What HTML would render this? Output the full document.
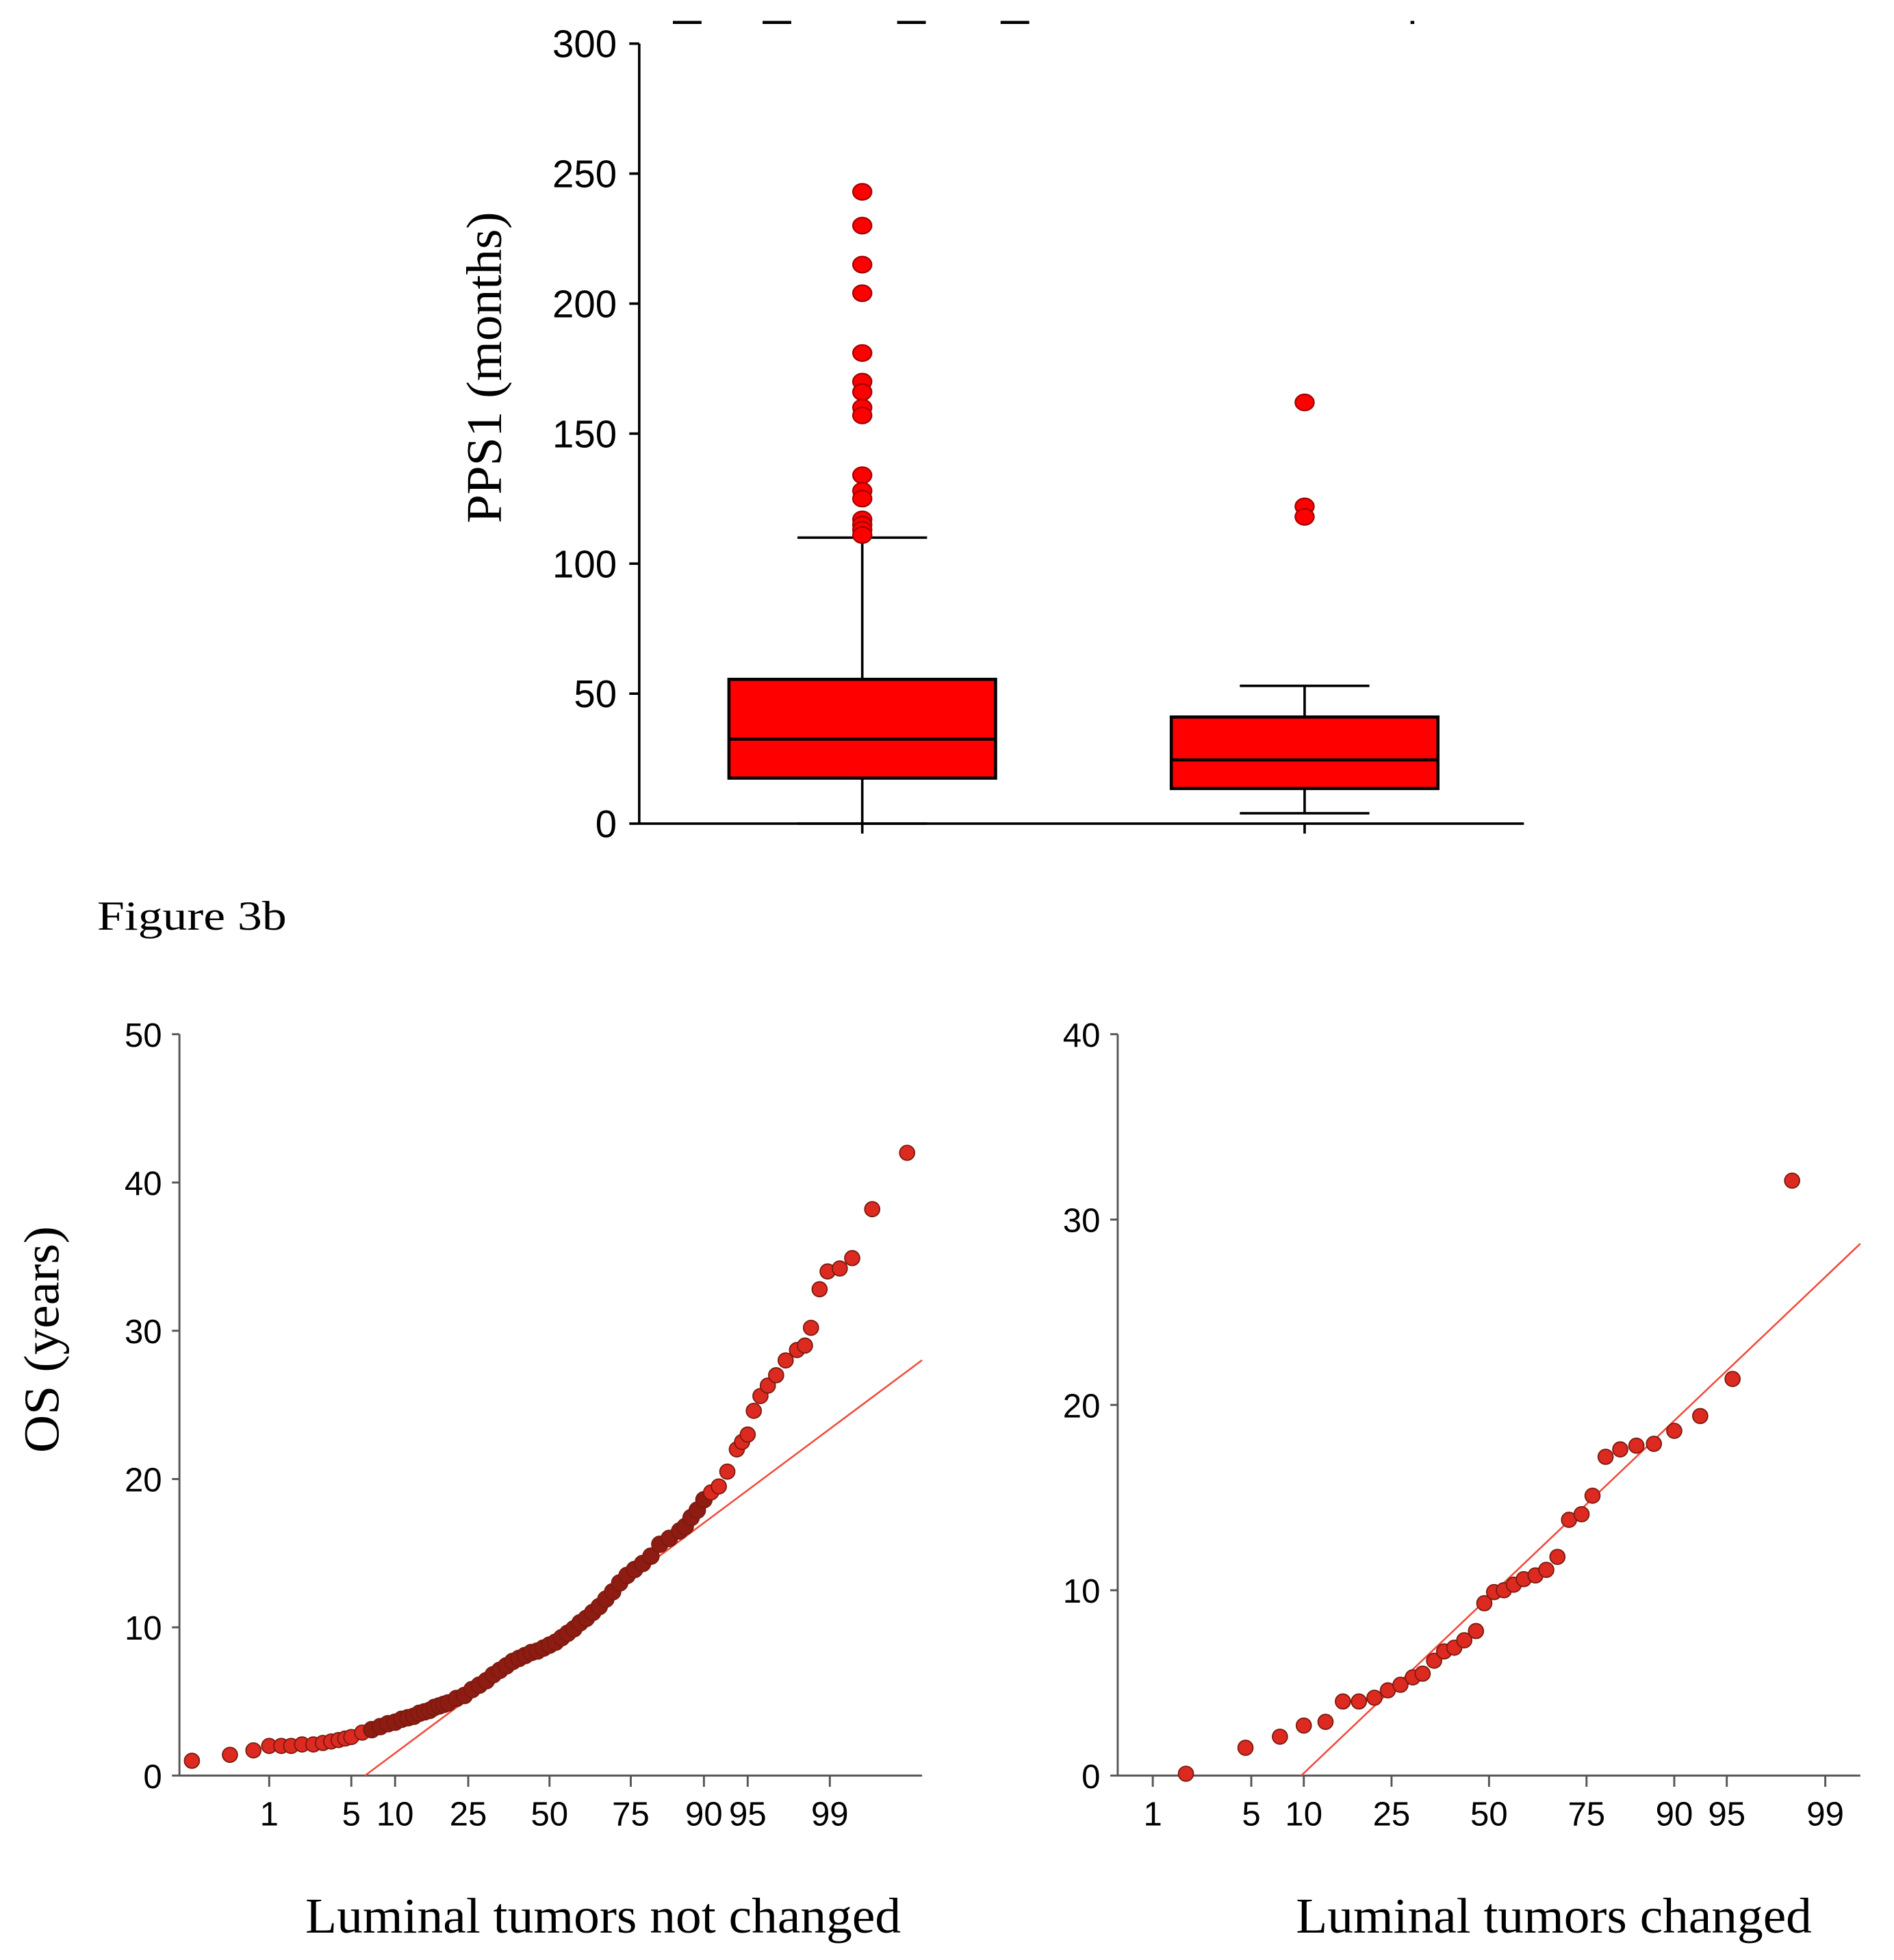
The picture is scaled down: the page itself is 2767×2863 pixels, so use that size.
<!DOCTYPE html>
<html><head><meta charset="utf-8"><style>
html,body{margin:0;padding:0;background:#fff}
svg{display:block}
.tk{font-family:"Liberation Sans",Arial,sans-serif;fill:#000}
.sr{font-family:"Liberation Serif",serif;fill:#000}
</style></head><body>
<svg id="fig" width="2767" height="2863" viewBox="0 0 1520 1573" preserveAspectRatio="none" xmlns="http://www.w3.org/2000/svg">
<g id="top"></g>
<text class="sr" x="78" y="746" font-size="33" textLength="152" lengthAdjust="spacingAndGlyphs">Figure 3b</text>
<g id="left"></g>
<g id="right"></g>
</svg>
<script>
// ---- Box plot data ----
const boxGroups = ["not changed", "changed"];
const boxQ1 = [17.5, 13.5];
const boxMedian = [32.5, 24.5];
const boxQ3 = [55.5, 41];
const boxWhiskerLow = [0, 4];
const boxWhiskerHigh = [110, 53];
const outliers1 = [243, 230, 215, 204, 181, 170, 166, 160, 157, 134, 128, 125, 117, 115, 113, 111];
const outliers2 = [162, 122, 118];
const boxYTicks = [0, 50, 100, 150, 200, 250, 300];

// ---- QQ plot (left) data ----
const leftPct = [0.15,0.4,0.7,1.0,1.3,1.6,2,2.5,3,3.5,4,4.5,5,6,7,8,9,10,11,12,13,14,15,16,17,18,19,20,22,24,26,28,30,32,34,36,38,40,42,44,46,48,50,52,54,56,58,60,62,64,66,68,70,72,74,76,78,80,82,84,86,87,88,89,90,91,92,93,94,94.5,95,95.5,96,96.5,97,97.5,98,98.3,98.5,98.75,98.95,99.2,99.4,99.63,99.85];
const leftVal = [1.0,1.4,1.7,2.0,2.0,2.0,2.1,2.1,2.2,2.3,2.4,2.5,2.6,2.9,3.1,3.3,3.5,3.6,3.8,3.9,4.0,4.2,4.3,4.4,4.6,4.7,4.8,4.9,5.2,5.4,5.8,6.1,6.4,6.8,7.1,7.4,7.7,7.9,8.1,8.3,8.4,8.6,8.8,9.0,9.3,9.6,9.9,10.3,10.6,11.0,11.4,11.9,12.4,13.0,13.5,13.9,14.3,14.8,15.6,16.0,16.5,16.8,17.4,17.9,18.6,19.1,19.5,20.5,22.0,22.5,23.0,24.6,25.6,26.3,27.0,28.0,28.7,29.0,30.2,32.8,34.0,34.2,34.9,38.2,42.0];
const leftFit = [9.28, 6.06]; // intercept, slope (per z)
const leftYTicks = [0,10,20,30,40,50];
// ---- QQ plot (right) data ----
const rightPct = [1.8,4.6,7.4,10,12.9,15.6,18.4,21.4,24.2,27,29.9,32.3,35.2,37.8,40.5,43.2,46.4,48.7,51.4,54.1,56.8,59.5,62.6,65.4,68.2,71,73.9,76.3,79,81.8,84.6,87.3,90,92.8,95.4,98.2];
const rightVal = [0.1,1.5,2.1,2.7,2.9,4.0,4.0,4.2,4.6,4.9,5.3,5.5,6.2,6.7,6.9,7.3,7.8,9.3,9.9,10.0,10.3,10.6,10.8,11.1,11.8,13.8,14.1,15.1,17.2,17.6,17.8,17.9,18.6,19.4,21.4,32.1];
const rightFit = [9.64, 7.42];
const rightYTicks = [0,10,20,30,40];
const pctTicks = [1,5,10,25,50,75,90,95,99];
const pctTickLabels = ["1","5","10","25","50","75","90","95","99"];

const NS = "http://www.w3.org/2000/svg";
function mk(parent, tag, attrs, text){
  const e = document.createElementNS(NS, tag);
  for (const k in attrs) e.setAttribute(k, attrs[k]);
  if (text !== undefined) e.textContent = text;
  parent.appendChild(e);
  return e;
}
function ncdf(z){
  const t = 1/(1+0.2316419*Math.abs(z));
  const d = 0.3989423*Math.exp(-z*z/2);
  const p = d*t*(0.3193815+t*(-0.3565638+t*(1.781478+t*(-1.821256+t*1.330274))));
  return z > 0 ? 1-p : p;
}
function probit(p){ let lo=-6, hi=6; for(let i=0;i<60;i++){const m=(lo+hi)/2; if(ncdf(m)<p) lo=m; else hi=m;} return (lo+hi)/2; }

// ===== Box plot =====
(function(){
  const g = document.getElementById('top');
  const y = v => 661 - v*(626/300);
  const x = i => [692, 1047][i];
  const halfW = 107, capW = 52;
  [[540,563],[612,635],[720,743],[803,826],[1132,1135]].forEach(d=>{
    const l = mk(g,'line',{x1:d[0],x2:d[1],y1:18,y2:18,stroke:'#000','stroke-width':2.5});
    
    
  });
  const ax = mk(g,'line',{x1:513,x2:513,y1:35,y2:661,stroke:'#000','stroke-width':2});
  
  
  const xa = mk(g,'line',{x1:513,x2:1223,y1:661,y2:661,stroke:'#000','stroke-width':2});
  
  
  boxYTicks.forEach(t=>{
    const tl = mk(g,'line',{x1:505,x2:513,y1:y(t),y2:y(t),stroke:'#000','stroke-width':2});
    
    
    const tx = mk(g,'text',{x:495,y:y(t)+11,'text-anchor':'end','font-size':31,class:'tk'},String(t));
    
    
  });
  const yl = mk(g,'text',{transform:'translate(402,295) rotate(-90)','text-anchor':'middle','font-size':40,class:'sr',textLength:250,lengthAdjust:'spacingAndGlyphs'},'PPS1 (months)');
  
  
  const outs = [outliers1, outliers2];
  boxGroups.forEach((name,i)=>{
    const cx = x(i);
    const xt = mk(g,'line',{x1:cx,x2:cx,y1:661,y2:669,stroke:'#000','stroke-width':2});
    
    
    const w = mk(g,'line',{x1:cx,x2:cx,y1:y(boxWhiskerLow[i]),y2:y(boxWhiskerHigh[i]),stroke:'#000','stroke-width':2});
    
    
    [boxWhiskerLow[i], boxWhiskerHigh[i]].forEach(v=>{
      const c = mk(g,'line',{x1:cx-capW,x2:cx+capW,y1:y(v),y2:y(v),stroke:'#000','stroke-width':2});
      
      
    });
    const r = mk(g,'rect',{x:cx-halfW,y:y(boxQ3[i]),width:2*halfW,height:y(boxQ1[i])-y(boxQ3[i]),fill:'#ff0000',stroke:'#000','stroke-width':2.5});
    
    
    const m = mk(g,'line',{x1:cx-halfW,x2:cx+halfW,y1:y(boxMedian[i]),y2:y(boxMedian[i]),stroke:'#000','stroke-width':2.5});
    
    
    outs[i].forEach(v=>{
      const o = mk(g,'ellipse',{cx:cx,cy:y(v),rx:7.5,ry:6.5,fill:'#ff0000',stroke:'#a00000','stroke-width':1.2});
      
      
    });
  });
})();

// ===== QQ plots =====
function qq(gid, o){
  const g = document.getElementById(gid);
  const y = v => o.y0 - v*o.ppu;
  const x = p => o.x50 + o.pz*probit(p/100);
  const ax = mk(g,'line',{x1:o.xl,x2:o.xl,y1:o.yTop,y2:o.y0,stroke:'#555','stroke-width':1.6});
  
  
  const xa = mk(g,'line',{x1:o.xl,x2:o.xr,y1:o.y0,y2:o.y0,stroke:'#555','stroke-width':1.6});
  
  
  o.yTicks.forEach(t=>{
    const tl = mk(g,'line',{x1:o.xl-6,x2:o.xl,y1:y(t),y2:y(t),stroke:'#555','stroke-width':1.6});
    
    
    const tx = mk(g,'text',{x:o.xl-14,y:y(t)+10,'text-anchor':'end','font-size':27,class:'tk'},String(t));
    
    
  });
  pctTicks.forEach((p,i)=>{
    const tl = mk(g,'line',{x1:x(p),x2:x(p),y1:o.y0,y2:o.y0+9,stroke:'#555','stroke-width':1.6});
    
    
    const tx = mk(g,'text',{x:x(p),y:o.y0+40,'text-anchor':'middle','font-size':27,class:'tk'},pctTickLabels[i]);
    
    
  });
  const zL = (o.xl - o.x50)/o.pz, zR = (o.xr - o.x50)/o.pz;
  const z0 = Math.max(zL, -o.fit[0]/o.fit[1]);
  const fl = mk(g,'line',{x1:o.x50+o.pz*z0,y1:y(o.fit[0]+o.fit[1]*z0),x2:o.x50+o.pz*zR,y2:y(o.fit[0]+o.fit[1]*zR),stroke:'#f04a3a','stroke-width':1.4});
  
  
  o.pct.forEach((p,i)=>{
    const dense = o.dense && p > 6 && p < 91;
    const c = mk(g,'circle',{cx:x(p),cy:y(o.val[i]),r:dense?6.5:6,fill:dense?'#8e1c12':'#dd2a20',stroke:'#7a1a10','stroke-width':1});
    
    
  });
  if (o.ytitle){
    const yt = mk(g,'text',{transform:'translate(47,1075) rotate(-90)','text-anchor':'middle','font-size':40,class:'sr',textLength:182,lengthAdjust:'spacingAndGlyphs'},o.ytitle);
    
    
  }
  const xt = mk(g,'text',{x:o.titleX,y:1551,'text-anchor':'middle','font-size':40,class:'sr',textLength:o.titleW,lengthAdjust:'spacingAndGlyphs'},o.xtitle);
  
  
}
qq('left',{xl:144,xr:740,x50:441,pz:96.7,y0:1425,yTop:830,ppu:11.9,yTicks:leftYTicks,pct:leftPct,val:leftVal,fit:leftFit,dense:true,ytitle:'OS (years)',xtitle:'Luminal tumors not changed',titleX:484,titleW:478});
qq('right',{xl:897,xr:1493,x50:1195,pz:116,y0:1425,yTop:830,ppu:14.875,yTicks:rightYTicks,pct:rightPct,val:rightVal,fit:rightFit,dense:false,xtitle:'Luminal tumors changed',titleX:1247,titleW:414});
</script>
</body></html>
